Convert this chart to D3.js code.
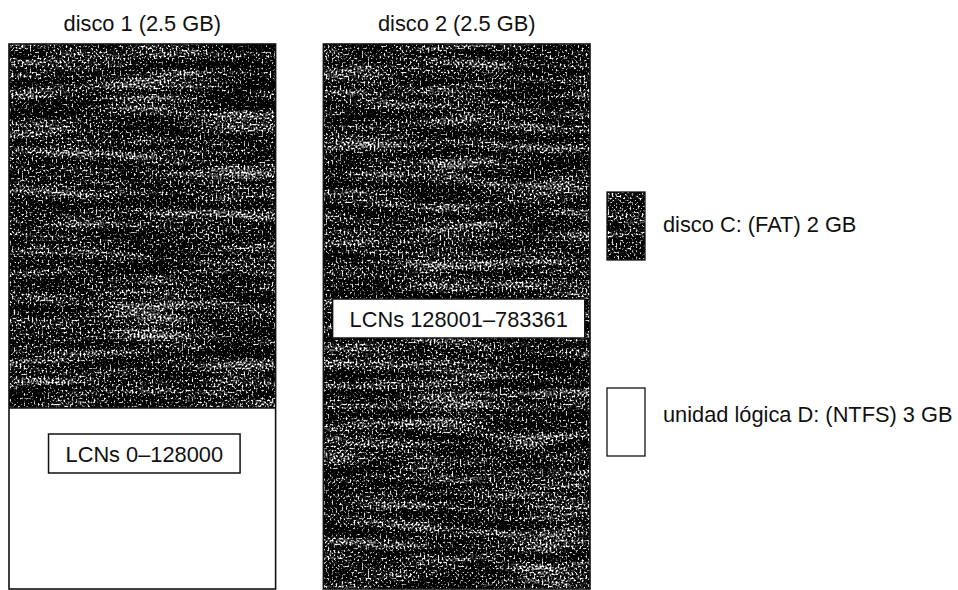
<html>
<head>
<meta charset="utf-8">
<script src="https://d3js.org/d3.v7.min.js"></script>
<style>
  body { margin: 0; background: #fff; }
  text { font-family: "Liberation Sans", Arial, Helvetica, sans-serif; fill: #111; }
</style>
</head>
<body>
<svg id="chart" width="958" height="590"></svg>
<script>
// disks and their sizes (GB)
const diskNames = ['disco 1', 'disco 2'];
const diskSizes = [2.5, 2.5];

// partition segments (GB from top of disk)
const segDisk = ['disco 1', 'disco 1', 'disco 2'];
const segStart = [0, 1.67, 0];
const segSize = [1.67, 0.83, 2.5];
const segKind = ['fat', 'ntfs', 'fat'];

// LCN range labels
const lcnDisk = ['disco 1', 'disco 2'];
const lcnText = ['LCNs 0\u2013128000', 'LCNs 128001\u2013783361'];

// legend
const legendKind = ['fat', 'ntfs'];
const legendText = ['disco C: (FAT) 2 GB', 'unidad l\u00f3gica D: (NTFS) 3 GB'];

const svg = d3.select('#chart');
const fontSize = '21.8px';

// noisy "scanned" texture for the FAT area
const defs = svg.append('defs');
const f = defs.append('filter').attr('id', 'grain')
    .attr('x', 0).attr('y', 0).attr('width', '100%').attr('height', '100%')
    .attr('color-interpolation-filters', 'sRGB');
const opaque = '1 0 0 0 0  1 0 0 0 0  1 0 0 0 0  0 0 0 0 1';
f.append('feTurbulence').attr('type', 'fractalNoise').attr('baseFrequency', '0.5')
    .attr('numOctaves', 2).attr('seed', 4).attr('result', 'fineRaw');
f.append('feColorMatrix').attr('in', 'fineRaw').attr('type', 'matrix')
    .attr('values', opaque).attr('result', 'fine');
f.append('feTurbulence').attr('type', 'fractalNoise').attr('baseFrequency', '0.01 0.1')
    .attr('numOctaves', 4).attr('seed', 11).attr('result', 'streakRaw');
f.append('feColorMatrix').attr('in', 'streakRaw').attr('type', 'matrix')
    .attr('values', opaque).attr('result', 'streak');
f.append('feComposite').attr('in', 'fine').attr('in2', 'streak').attr('operator', 'arithmetic')
    .attr('k2', 1.9).attr('k3', 0.65).attr('k4', -0.88).attr('result', 'mix');
f.append('feColorMatrix').attr('in', 'mix').attr('type', 'matrix')
    .attr('values', opaque).attr('result', 'gray');
const ct = f.append('feComponentTransfer').attr('in', 'gray');
const table = '0 0 0 0 0.1 0.3 0.55 0.78 0.93 1';
['feFuncR', 'feFuncG', 'feFuncB'].forEach(function (n) {
    ct.append(n).attr('type', 'discrete').attr('tableValues', table);
});

const fills = { fat: '#000', ntfs: '#fff' };
const filters = { fat: 'url(#grain)', ntfs: null };

const x = d3.scaleBand()
    .domain(diskNames)
    .range([9, 590])
    .paddingInner(0.152);

const y = d3.scaleLinear()
    .domain([0, d3.max(diskSizes)])
    .range([44, 589]);

// segments
svg.append('g').selectAll('rect')
    .data(segDisk.map(function (d, i) { return { disk: d, start: segStart[i], size: segSize[i], kind: segKind[i] }; }))
    .enter().append('rect')
    .attr('x', function (d) { return x(d.disk); })
    .attr('y', function (d) { return y(d.start); })
    .attr('width', x.bandwidth())
    .attr('height', function (d) { return y(d.start + d.size) - y(d.start); })
    .attr('fill', function (d) { return fills[d.kind]; })
    .attr('filter', function (d) { return filters[d.kind]; });

// disk outlines + split lines
svg.append('g').selectAll('rect')
    .data(diskNames.map(function (d, i) { return { disk: d, size: diskSizes[i] }; }))
    .enter().append('rect')
    .attr('x', function (d) { return x(d.disk); })
    .attr('y', y(0))
    .attr('width', x.bandwidth())
    .attr('height', function (d) { return y(d.size) - y(0); })
    .attr('fill', 'none')
    .attr('stroke', '#111')
    .attr('stroke-width', 1.6);

svg.append('g').selectAll('line')
    .data(segStart.map(function (s, i) { return { disk: segDisk[i], s: s }; }).filter(function (d) { return d.s > 0; }))
    .enter().append('line')
    .attr('x1', function (d) { return x(d.disk); })
    .attr('x2', function (d) { return x(d.disk) + x.bandwidth(); })
    .attr('y1', function (d) { return y(d.s); })
    .attr('y2', function (d) { return y(d.s); })
    .attr('stroke', '#111')
    .attr('stroke-width', 1.6);

// disk titles
svg.append('g').selectAll('text')
    .data(diskNames.map(function (d, i) { return { disk: d, size: diskSizes[i] }; }))
    .enter().append('text')
    .attr('x', function (d) { return x(d.disk) + x.bandwidth() / 2; })
    .attr('y', 31)
    .attr('text-anchor', 'middle')
    .style('font-size', fontSize)
    .text(function (d) { return d.disk + ' (' + d.size + ' GB)'; });

// LCN boxes (vertical placement is layout only)
const lcnBaseline = [462, 327];
const pad = 17;
lcnText.forEach(function (t, i) {
    const cx = x(lcnDisk[i]) + x.bandwidth() / 2 + 2;
    const g = svg.append('g');
    const box = g.append('rect');
    const tx = g.append('text')
        .attr('x', cx)
        .attr('y', lcnBaseline[i])
        .attr('text-anchor', 'middle')
        .style('font-size', fontSize)
        .text(t);
    const w = tx.node().getComputedTextLength();
    box.attr('x', cx - w / 2 - pad)
        .attr('y', lcnBaseline[i] - 28)
        .attr('width', w + pad * 2)
        .attr('height', 39)
        .attr('fill', '#fff')
        .attr('stroke', '#111')
        .attr('stroke-width', 1.5);
});

// legend
const legY = [192, 388];
const legTextY = [232, 422];
const leg = svg.append('g');
leg.selectAll('rect')
    .data(legendKind)
    .enter().append('rect')
    .attr('x', 607)
    .attr('y', function (d, i) { return legY[i]; })
    .attr('width', 38)
    .attr('height', 68)
    .attr('fill', function (d) { return fills[d]; })
    .attr('filter', function (d) { return filters[d]; });
leg.selectAll('rect.o')
    .data(legendKind)
    .enter().append('rect')
    .attr('class', 'o')
    .attr('x', 607)
    .attr('y', function (d, i) { return legY[i]; })
    .attr('width', 38)
    .attr('height', 68)
    .attr('fill', 'none')
    .attr('stroke', '#111')
    .attr('stroke-width', 1.3);
leg.selectAll('text')
    .data(legendText)
    .enter().append('text')
    .attr('x', 663)
    .attr('y', function (d, i) { return legTextY[i]; })
    .style('font-size', fontSize)
    .text(function (d) { return d; });
</script>
</body>
</html>
